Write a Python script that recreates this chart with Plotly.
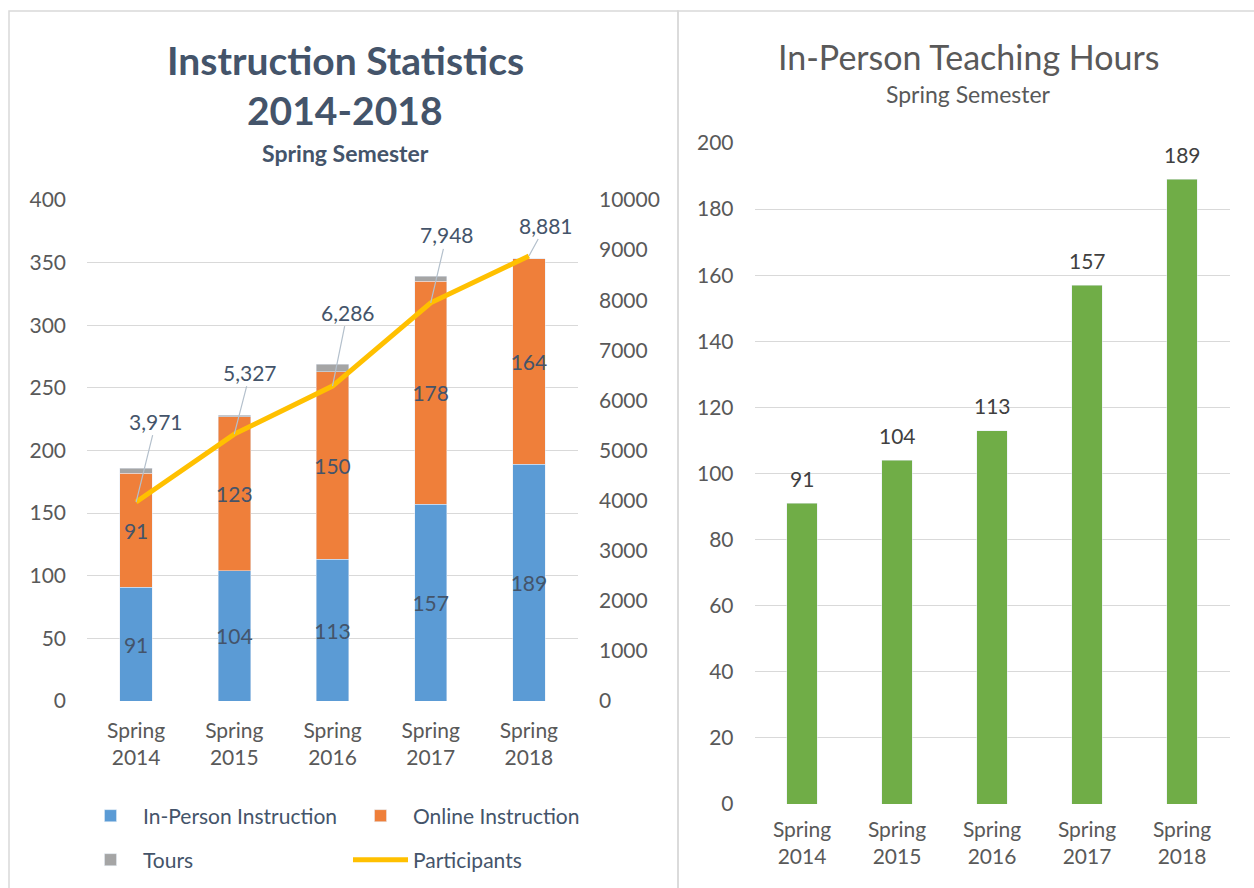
import plotly.graph_objects as go

categories = ["Spring<br>2014", "Spring<br>2015", "Spring<br>2016", "Spring<br>2017", "Spring<br>2018"]
in_person = [91, 104, 113, 157, 189]
online = [91, 123, 150, 178, 164]
tours = [4, 1, 6, 4, 0]
participants = [3971, 5327, 6286, 7948, 8881]
teaching_hours = [91, 104, 113, 157, 189]

FONT = "Lato"
TICK = "#595959"
LABEL = "#44546A"

fig = go.Figure()

fig.add_trace(go.Bar(x=categories, y=in_person, name="In-Person Instruction",
                     marker=dict(color="#5B9BD5"), width=0.33,
                     text=in_person, textposition="inside", insidetextanchor="middle",
                     textangle=0, constraintext="none",
                     textfont=dict(color=LABEL, size=21, family=FONT),
                     xaxis="x", yaxis="y", legend="legend"))
fig.add_trace(go.Bar(x=categories, y=online, name="Online Instruction",
                     marker=dict(color="#EF7F3A"), width=0.33,
                     text=online, textposition="inside", insidetextanchor="middle",
                     textangle=0, constraintext="none",
                     textfont=dict(color=LABEL, size=21, family=FONT),
                     xaxis="x", yaxis="y", legend="legend"))
fig.add_trace(go.Bar(x=categories, y=tours, name="Tours",
                     marker=dict(color="#A5A5A5"), width=0.33,
                     xaxis="x", yaxis="y", legend="legend2"))
fig.add_trace(go.Scatter(x=categories, y=participants, name="Participants",
                         mode="lines", line=dict(color="#FFC000", width=5),
                         xaxis="x", yaxis="y2", legend="legend2"))

fig.add_trace(go.Bar(x=categories, y=teaching_hours, name="In-Person Teaching Hours",
                     marker=dict(color="#70AD47"), width=0.32,
                     xaxis="x3", yaxis="y3", showlegend=False))

# labels above the green bars
for c, v in zip(categories, teaching_hours):
    fig.add_annotation(x=c, y=v, xref="x3", yref="y3", text=str(v), showarrow=False,
                       yanchor="middle", yshift=25,
                       font=dict(size=21, color="#404040", family=FONT))

# participant labels with leader lines
offsets = [(20, -81), (16, -62), (15, -74), (16, -68), (17, -31)]
for c, p, (ax, ay) in zip(categories, participants, offsets):
    fig.add_annotation(x=c, y=p, xref="x", yref="y2", text=f"{p:,}",
                       showarrow=True, arrowhead=0, arrowwidth=1.2, arrowcolor="#B4C0CC",
                       ax=ax, ay=ay, font=dict(size=21, color=LABEL, family=FONT),
                       standoff=0)

# titles
def title(x, y, text, size, color):
    fig.add_annotation(x=x/1254, y=1-y/888, xref="paper", yref="paper", showarrow=False,
                       xanchor="center", yanchor="middle",
                       text=text, font=dict(size=size, color=color, family=FONT))

title(345, 60, "<b>Instruction Statistics</b>", 39, "#44546A")
title(345, 110, "<b>2014-2018</b>", 39, "#44546A")
title(345, 153, "<b>Spring Semester</b>", 23, "#44546A")
title(968, 56, "In-Person Teaching Hours", 34, "#595959")
title(968, 94, "Spring Semester", 23, "#595959")

# panel borders
fig.add_shape(type="rect", xref="paper", yref="paper", x0=9/1254, x1=678/1254, y0=-0.01, y1=1-11/888,
              line=dict(color="#D9D9D9", width=1.5))
fig.add_shape(type="rect", xref="paper", yref="paper", x0=678/1254, x1=1.01, y0=-0.01, y1=1-11/888,
              line=dict(color="#D9D9D9", width=1.5))

tickfont = dict(size=21, color=TICK, family=FONT)
legfont = dict(size=21, color=LABEL, family=FONT)
fig.update_layout(
    width=1254, height=888,
    margin=dict(l=0, r=0, t=0, b=0, autoexpand=False),
    paper_bgcolor="white", plot_bgcolor="white",
    barmode="stack", font=dict(family=FONT),
    xaxis=dict(domain=[87/1254, 578/1254], anchor="y", tickfont=tickfont,
               showline=False, ticks="", ticklabelstandoff=15),
    yaxis=dict(domain=[1-701/888, 1-200/888], range=[0, 400], dtick=50,
               gridcolor="#D9D9D9", gridwidth=1.3, tickfont=tickfont, zeroline=False,
               ticklabelstandoff=20),
    yaxis2=dict(overlaying="y", side="right", anchor="x", range=[0, 10000], dtick=1000,
                tickformat="d", showgrid=False, tickfont=tickfont, zeroline=False,
                ticklabelstandoff=20),
    xaxis3=dict(domain=[754.5/1254, 1229.5/1254], anchor="y3", tickfont=tickfont, ticks="",
                ticklabelstandoff=11),
    yaxis3=dict(domain=[1-804/888, 1-143/888], range=[0, 200], dtick=20, anchor="x3",
                gridcolor="#D9D9D9", gridwidth=1.3, tickfont=tickfont, zeroline=False,
                ticklabelstandoff=20),
    legend=dict(orientation="h", x=78/1254, y=1-816/888, xanchor="left", yanchor="middle",
                entrywidth=200, entrywidthmode="pixels", traceorder="normal",
                font=legfont, itemwidth=55, bgcolor="rgba(0,0,0,0)"),
    legend2=dict(orientation="h", x=78/1254, y=1-860/888, xanchor="left", yanchor="middle",
                 entrywidth=200, entrywidthmode="pixels", traceorder="normal",
                 font=legfont, itemwidth=55, bgcolor="rgba(0,0,0,0)"),
    bargap=0.67,
)

fig.write_html("out.html", config={"displayModeBar": False},
               post_script="document.body.style.margin='0';document.body.style.overflow='hidden';")
